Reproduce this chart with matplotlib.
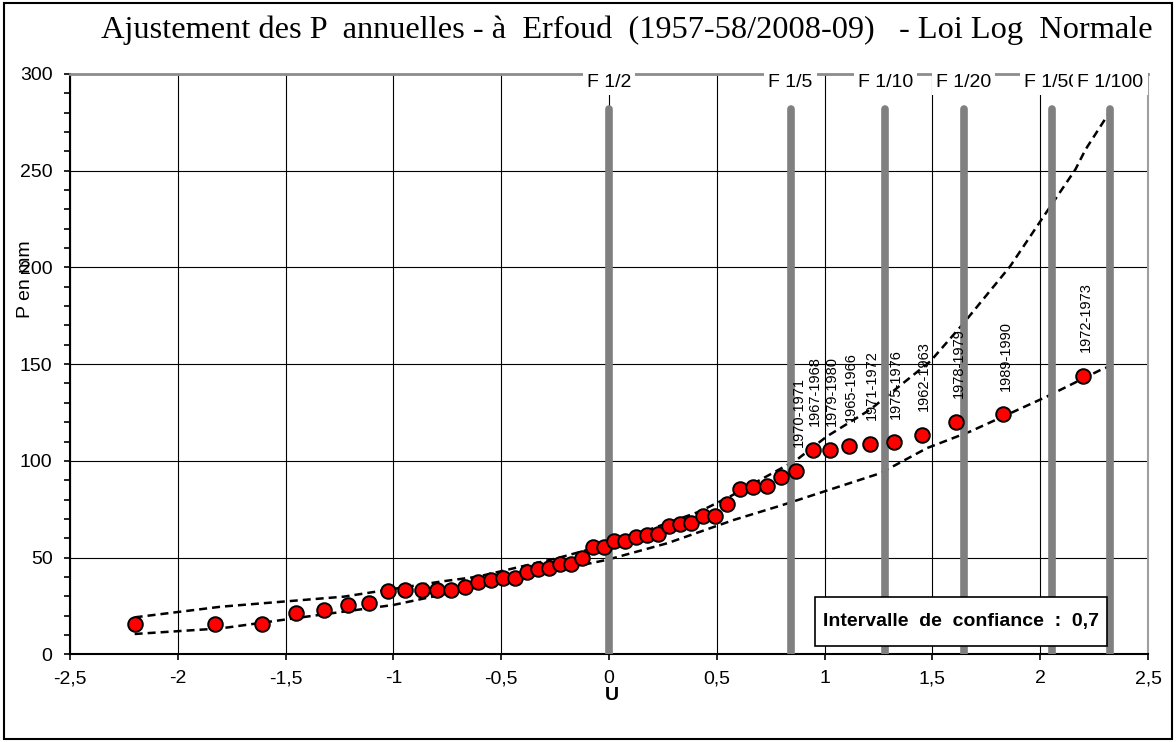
import matplotlib
matplotlib.use('Agg')
import matplotlib.pyplot as plt
from matplotlib.ticker import MultipleLocator, FuncFormatter
from matplotlib.patches import Rectangle

plt.rcParams['font.family'] = ['Liberation Sans', 'DejaVu Sans']

# Variable réduite U et pluies annuelles classées (mm)
u_obs = [-2.200, -1.829, -1.611, -1.451, -1.321, -1.210, -1.113, -1.025, -0.944, -0.869,
         -0.799, -0.732, -0.668, -0.607, -0.548, -0.492, -0.436, -0.382, -0.329, -0.277,
         -0.226, -0.175, -0.125, -0.075, -0.025, 0.025, 0.075, 0.125, 0.175, 0.226,
         0.277, 0.329, 0.382, 0.436, 0.492, 0.548, 0.607, 0.668, 0.732, 0.799,
         0.869, 0.944, 1.025, 1.113, 1.210, 1.321, 1.451, 1.611, 1.829, 2.200]
p_obs = [15.5, 15.5, 15.5, 21.5, 22.9, 25.5, 26.7, 32.9, 33.3, 33.3,
         33.3, 33.3, 35.0, 37.2, 38.4, 39.3, 39.3, 42.4, 44.1, 44.8,
         46.6, 46.6, 50.0, 55.7, 55.7, 58.6, 58.6, 60.5, 61.7, 62.2,
         66.4, 67.4, 67.8, 71.5, 71.7, 77.6, 85.5, 86.7, 87.2, 91.6,
         94.8, 105.7, 105.7, 107.8, 108.8, 109.5, 113.5, 120.3, 124.1, 143.9]
# années des 10 plus fortes valeurs
annees = ['1970-1971', '1967-1968', '1979-1980', '1965-1966', '1971-1972',
          '1975-1976', '1962-1963', '1978-1979', '1989-1990', '1972-1973']

# bornes de l'intervalle de confiance
u_sup = [-2.2, -1.8, -1.23, -0.78, -0.61, -0.24, 0.0, 0.42, 0.56, 0.87,
         1.01, 1.21, 1.49, 1.645, 1.86, 2.016, 2.163, 2.21, 2.326]
p_sup = [19.1, 24.6, 29.8, 37.6, 40.1, 49.7, 57.0, 73.8, 81.5, 100.5,
         112.6, 126.4, 151.4, 171.2, 200.5, 226.4, 250.6, 260.9, 281.0]
u_inf = [-2.2, -1.8, -1.46, -1.0, -0.78, -0.5, -0.01, 0.27, 0.58, 0.8,
         1.258, 1.475, 1.676, 2.032, 2.287, 2.326]
p_inf = [10.5, 13.4, 18.6, 25.5, 30.7, 37.6, 48.8, 57.4, 69.5, 77.0,
         93.6, 106.6, 115.2, 133.3, 147.4, 149.0]

# fréquences de retour
u_freq = [0.0, 0.842, 1.282, 1.645, 2.054, 2.326]
lab_freq = ['F 1/2', 'F 1/5', 'F 1/10', 'F 1/20', 'F 1/50', 'F 1/100']
p_freq_haut = 282

fig = plt.figure(figsize=(11.76, 7.42), dpi=100)
ax = fig.add_axes([0.0595, 0.1182, 0.9167, 0.7821])

ax.set_xlim(-2.5, 2.5)
ax.set_ylim(0, 300)
ax.xaxis.set_major_locator(MultipleLocator(0.5))
ax.yaxis.set_major_locator(MultipleLocator(50))
ax.yaxis.set_minor_locator(MultipleLocator(10))
virgule = FuncFormatter(lambda v, pos: f"{v:g}".replace('.', ','))
ax.xaxis.set_major_formatter(virgule)
ax.yaxis.set_major_formatter(virgule)
ax.tick_params(axis='both', which='major', labelsize=14, length=4.5, width=1.2, direction='out')
ax.tick_params(axis='y', which='minor', length=4.5, width=1.2, direction='out')
ax.tick_params(axis='y', pad=8)
ax.tick_params(axis='x', pad=7)
ax.grid(True, which='major', color='black', linewidth=0.8)
ax.set_axisbelow(True)

for s in ['left', 'bottom']:
    ax.spines[s].set_color('black')
    ax.spines[s].set_linewidth(1.5)
ax.spines['top'].set_color('#8c8c8c')
ax.spines['top'].set_linewidth(2)
ax.spines['right'].set_color('#a0a0a0')
ax.spines['right'].set_linewidth(1.5)

# intervalle de confiance
ax.plot(u_sup, p_sup, color='black', lw=1.8, ls=(0, (3.2, 2.0)), zorder=2)
ax.plot(u_inf, p_inf, color='black', lw=1.8, ls=(0, (3.2, 2.0)), zorder=2)

# lignes des fréquences
for uf, lab in zip(u_freq, lab_freq):
    ax.plot([uf, uf], [0, p_freq_haut], color='#808080', lw=5.5,
            solid_capstyle='round', zorder=3)
    ax.text(uf, 295.5, lab, ha='center', va='center', fontsize=14, zorder=6,
            bbox=dict(facecolor='white', edgecolor='none', pad=3), clip_on=False)

# points observés
ax.plot(u_obs, p_obs, 'o', color='#ff0000', markeredgecolor='black',
        markersize=10.5, markeredgewidth=1.4, ls='none', zorder=5)

for uo, po, an in zip(u_obs[-10:], p_obs[-10:], annees):
    ax.annotate(an, (uo, po), xytext=(1.5, 17), textcoords='offset points',
                rotation=90, ha='center', va='bottom', fontsize=10.5, zorder=4)

# cadre intervalle de confiance
ax.add_patch(Rectangle((0.691, 0.014), 0.271, 0.084, transform=ax.transAxes,
                       facecolor='white', edgecolor='black', lw=1.2, zorder=7))
ax.text(0.691 + 0.1355, 0.056, 'Intervalle  de  confiance  :  0,7', transform=ax.transAxes,
        ha='center', va='center', fontsize=14, fontweight='bold', zorder=8)

fig.text(0.533, 0.959, 'Ajustement des P  annuelles - à  Erfoud  (1957-58/2008-09)   - Loi Log  Normale',
         ha='center', va='center', fontsize=23.3, family=['Liberation Serif', 'DejaVu Serif'])
fig.text(25 / 1176, 0.624, 'P en mm', rotation=90, ha='center', va='center', fontsize=14)
fig.text(612 / 1176, 0.063, 'U', ha='center', va='center', fontsize=14, fontweight='bold')

fig.add_artist(Rectangle((0.003, 0.004), 0.994, 0.992, transform=fig.transFigure,
                         fill=False, edgecolor='black', lw=1.5))

fig.savefig('out.png', dpi=100)
